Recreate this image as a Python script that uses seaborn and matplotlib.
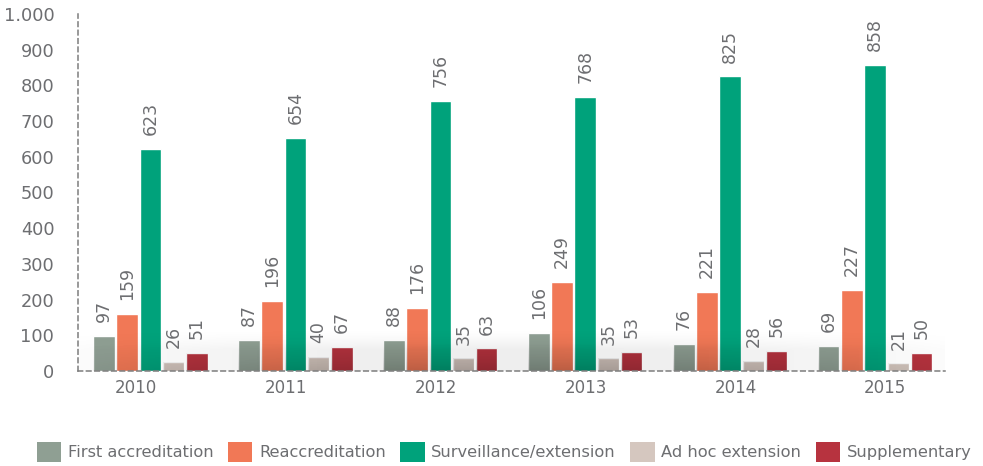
import numpy as np
import pandas as pd
import matplotlib
matplotlib.use('Agg')
import matplotlib.pyplot as plt
import seaborn as sns
from matplotlib.patches import Patch
from matplotlib.path import Path
from matplotlib.patches import PathPatch

# Dados
anos = ['2010', '2011', '2012', '2013', '2014', '2015']
tipos = ['First accreditation', 'Reaccreditation', 'Surveillance/extension',
         'Ad hoc extension', 'Supplementary']
first_accr = [97, 87, 88, 106, 76, 69]
reaccr = [159, 196, 176, 249, 221, 227]
surveillance = [623, 654, 756, 768, 825, 858]
ad_hoc = [26, 40, 35, 35, 28, 21]
supplementary = [51, 67, 63, 53, 56, 50]

cores = ['#8f9f93', '#f17856', '#00a27b', '#d5c7bf', '#b7333f']
cinza = '#6d6e71'

# Formato longo para o seaborn
valores = [first_accr, reaccr, surveillance, ad_hoc, supplementary]
df = pd.DataFrame([(a, t, v[i]) for t, v in zip(tipos, valores) for i, a in enumerate(anos)],
                  columns=['Ano', 'Tipo', 'Valor'])

sns.set_style('white')
plt.rcParams['font.family'] = ['DejaVu Sans']

fig = plt.figure(figsize=(9.83, 4.66), dpi=100)
ax = fig.add_axes([0.0793, 0.2039, 0.8817, 0.7661])

sns.barplot(data=df, x='Ano', y='Valor', hue='Tipo', hue_order=tipos,
            palette=cores, saturation=1, width=0.8, gap=0.07,
            legend=False, ax=ax, zorder=2)

# Rótulos dos valores
for c in ax.containers:
    ax.bar_label(c, rotation=90, padding=10, color=cinza, fontsize=12.5, zorder=5)

x0, x1 = -0.5, 5.48
ax.set_xlim(x0, x1)
ax.set_ylim(0, 1000)

# Sombra suave na base
xs = np.linspace(x0, x1, 300)
ys = np.linspace(0, 130, 200)
X, Y = np.meshgrid(xs, ys)
h = np.clip(1 - ((X - 2.5) / 3.4) ** 2, 0, 1)
v_bg = np.clip((120 - Y) / 60, 0, 1) ** 1.5
img = np.zeros(X.shape + (4,))
img[..., 3] = 0.07 * h * v_bg
ax.imshow(img, extent=(x0, x1, 0, 130), origin='lower', aspect='auto',
          zorder=3, interpolation='bilinear')

# Escurecimento da base das barras
v_bar = np.clip((80 - Y) / 80, 0, 1) ** 1.3
img2 = np.zeros(X.shape + (4,))
img2[..., 3] = 0.17 * h * v_bar
verts, codes = [], []
for p in ax.patches:
    bb = p.get_bbox()
    verts += [(bb.x0, bb.y0), (bb.x1, bb.y0), (bb.x1, bb.y1), (bb.x0, bb.y1), (bb.x0, bb.y0)]
    codes += [Path.MOVETO, Path.LINETO, Path.LINETO, Path.LINETO, Path.CLOSEPOLY]
clip = PathPatch(Path(verts, codes), transform=ax.transData, facecolor='none', edgecolor='none')
ax.add_patch(clip)
im2 = ax.imshow(img2, extent=(x0, x1, 0, 130), origin='lower', aspect='auto',
                zorder=3, interpolation='bilinear')
im2.set_clip_path(clip)
ax.set_xlim(x0, x1)
ax.set_ylim(0, 1000)

# Eixos tracejados
for s in ['top', 'right']:
    ax.spines[s].set_visible(False)
for s in ['left', 'bottom']:
    ax.spines[s].set_linestyle((0, (3, 2.5)))
    ax.spines[s].set_color('#7d7d7d')
    ax.spines[s].set_linewidth(1.1)
    ax.spines[s].set_zorder(4)

ax.set_yticks(range(0, 1001, 100))
ax.set_yticklabels([f'{v:,}'.replace(',', '.') for v in range(0, 1001, 100)])
ax.tick_params(axis='y', direction='in', length=7, width=1.1, color='#7d7d7d',
               labelsize=12.8, labelcolor=cinza, pad=17)

ax.set_xticks(np.linspace(-0.1, 5.07, 6))
ax.set_xticklabels(anos)
ax.set_xticks(np.arange(0.5, 5, 1), minor=True)
ax.tick_params(axis='x', which='major', length=0, labelsize=12, labelcolor=cinza, pad=6)
ax.tick_params(axis='x', which='minor', direction='in', length=8, width=1.1, color='#7d7d7d')
ax.set_xlabel('')
ax.set_ylabel('')
ax.grid(False)

# Legenda
handles = [Patch(facecolor=c, edgecolor='none') for c in cores]
fig.legend(handles, tipos, loc='center', bbox_to_anchor=(0.513, 0.03), ncol=5,
           frameon=False, fontsize=11.7, labelcolor=cinza, handlelength=1.5,
           handleheight=1.5, handletextpad=0.4, columnspacing=0.9)

fig.savefig('out.png', dpi=100)
